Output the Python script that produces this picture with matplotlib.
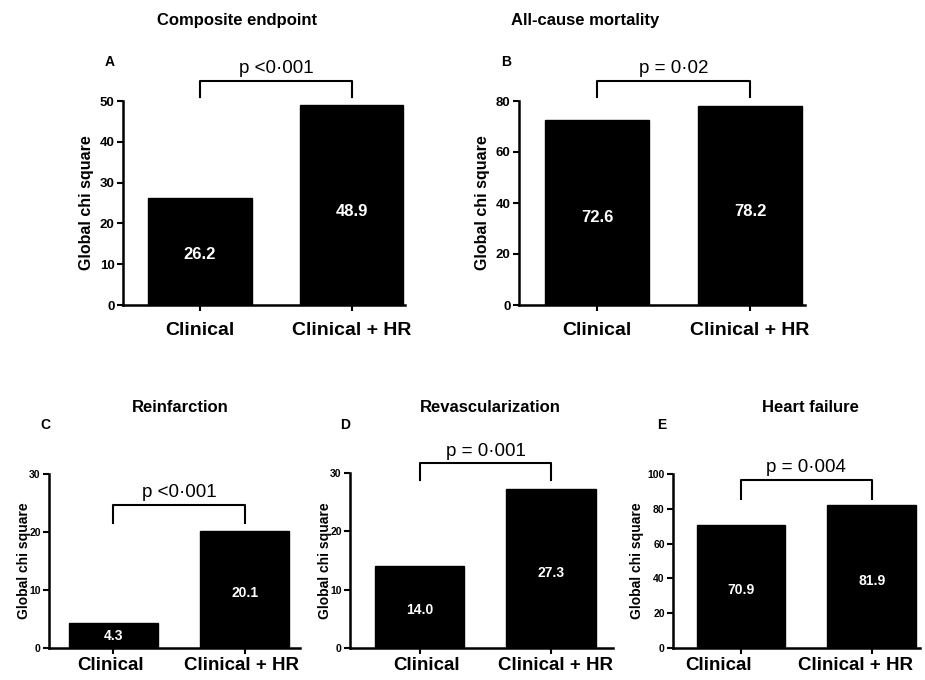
import matplotlib
matplotlib.use("Agg")
import matplotlib.pyplot as plt
from matplotlib.transforms import ScaledTranslation

plt.rcParams['font.family'] = ['Liberation Sans', 'DejaVu Sans']

categories = ["Clinical", "Clinical + HR"]
titles = ["Composite endpoint", "All-cause mortality", "Reinfarction", "Revascularization", "Heart failure"]
letters = ["A", "B", "C", "D", "E"]
values_A = [26.2, 48.9]
values_B = [72.6, 78.2]
values_C = [4.3, 20.1]
values_D = [14.0, 27.3]
values_E = [70.9, 81.9]
pvals = ["p <0·001", "p = 0·02", "p <0·001", "p = 0·001", "p = 0·004"]
yticks_A = [0, 10, 20, 30, 40, 50]
yticks_B = [0, 20, 40, 60, 80]
yticks_C = [0, 10, 20, 30]
yticks_D = [0, 10, 20, 30]
yticks_E = [0, 20, 40, 60, 80, 100]

W, H = 925, 680
fig = plt.figure(figsize=(W / 100, H / 100), dpi=100)

panels = [
    dict(vals=values_A, yt=yticks_A, box=(123, 405, 101, 305), xlim=(-0.507, 1.35), ymax=50,
         br=(54.9, 51.0), title_xy=(237, 20), let_xy=(110, 62), ylab_x=87, tick_fs=9.5, ylab_fs=11.5,
         big=True, lab_dx=(0, 0), lab_dy=17),
    dict(vals=values_B, yt=yticks_B, box=(519, 805, 101, 305), xlim=(-0.51, 1.36), ymax=80,
         br=(87.8, 81.6), title_xy=(585, 20), let_xy=(506, 62), ylab_x=483, tick_fs=9.5, ylab_fs=11.5,
         big=True, lab_dx=(0, 0), lab_dy=17),
    dict(vals=values_C, yt=yticks_C, box=(49, 300, 474, 648), xlim=(-0.49, 1.42), ymax=30,
         br=(24.7, 21.6), title_xy=(180, 407), let_xy=(45, 425), ylab_x=24, tick_fs=7.5, ylab_fs=10,
         big=False, lab_dx=(-3, -3), lab_dy=9),
    dict(vals=values_D, yt=yticks_D, box=(350, 613, 473, 648), xlim=(-0.53, 1.47), ymax=30,
         br=(31.7, 28.8), title_xy=(490, 407), let_xy=(345, 425), ylab_x=325, tick_fs=7.5, ylab_fs=10,
         big=False, lab_dx=(7, 4), lab_dy=9),
    dict(vals=values_E, yt=yticks_E, box=(673, 920, 474, 648), xlim=(-0.52, 1.37), ymax=100,
         br=(96.6, 85.6), title_xy=(810, 407), let_xy=(662, 425), ylab_x=637, tick_fs=7.5, ylab_fs=10,
         big=False, lab_dx=(-22, -16), lab_dy=9),
]

for i, p in enumerate(panels):
    l, r, t, b = p['box']
    ax = fig.add_axes([l / W, 1 - b / H, (r - l) / W, (b - t) / H])
    x = [0, 1]
    ax.bar(x, p['vals'], width=0.68, color='black', edgecolor='black')
    ax.set_xlim(*p['xlim'])
    ax.set_ylim(0, p['ymax'])
    ax.set_yticks(p['yt'])
    ax.set_xticks(x)
    ax.set_xticklabels([])
    for xi, cat, dx in zip(x, categories, p['lab_dx']):
        tr = ax.get_xaxis_transform() + ScaledTranslation(dx / 100, -p['lab_dy'] / 100, fig.dpi_scale_trans)
        ax.text(xi, 0, cat, transform=tr, ha='center', va='top', clip_on=False,
                fontsize=14 if p['big'] else 13.5, fontweight='bold')
    for lab in ax.get_yticklabels():
        lab.set_fontweight('bold')
        lab.set_fontsize(p['tick_fs'])
    for s in ['top', 'right']:
        ax.spines[s].set_visible(False)
    for s in ['left', 'bottom']:
        ax.spines[s].set_linewidth(1.8)
    ax.tick_params(axis='both', width=1.5, length=4, direction='out', pad=2)
    for xi, v in zip(x, p['vals']):
        ax.text(xi, v * 0.47, f"{v:.1f}", color='white', ha='center', va='center',
                fontsize=12 if p['big'] else 10, fontweight='bold')
    bt, bb = p['br']
    ax.plot([0, 0, 1, 1], [bb, bt, bt, bb], color='black', lw=1.5, clip_on=False)
    ax.text(0.5, bt + p['ymax'] * 0.02, pvals[i], ha='center', va='bottom', fontsize=13.5, clip_on=False)
    fig.text(p['title_xy'][0] / W, 1 - p['title_xy'][1] / H, titles[i], ha='center', va='center',
             fontsize=12, fontweight='bold')
    fig.text(p['let_xy'][0] / W, 1 - p['let_xy'][1] / H, letters[i], ha='center', va='center',
             fontsize=10, fontweight='bold')
    fig.text(p['ylab_x'] / W, 1 - ((t + b) / 2) / H, "Global chi square", rotation=90,
             ha='center', va='center', fontsize=p['ylab_fs'], fontweight='bold')

fig.savefig("out.png", dpi=100)
